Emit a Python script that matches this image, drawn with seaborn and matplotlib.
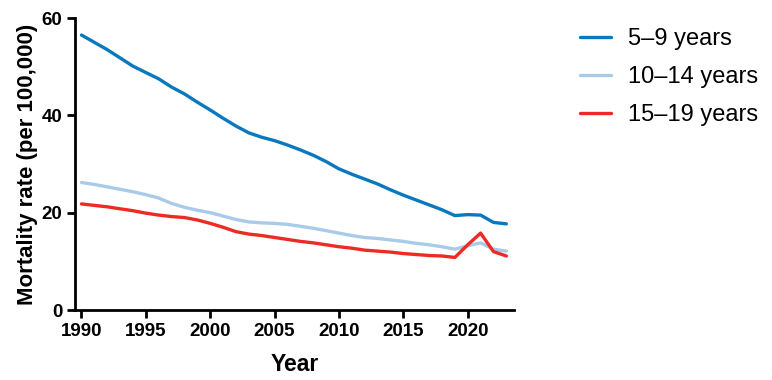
import numpy as np
import pandas as pd
import matplotlib
matplotlib.use("Agg")
import matplotlib.pyplot as plt
import seaborn as sns

# Data
years = list(range(1990, 2024))

age_5_9 = [56.5, 55.0, 53.5, 51.8, 50.1, 48.8, 47.5, 45.8, 44.4, 42.7,
           41.1, 39.4, 37.8, 36.4, 35.5, 34.8, 33.9, 32.9, 31.8, 30.5,
           29.0, 27.9, 26.9, 25.9, 24.7, 23.6, 22.6, 21.6, 20.6, 19.4,
           19.6, 19.5, 18.0, 17.7]

age_10_14 = [26.2, 25.8, 25.3, 24.8, 24.3, 23.7, 23.0, 21.9, 21.1, 20.5,
             20.0, 19.3, 18.6, 18.1, 17.9, 17.8, 17.6, 17.2, 16.8, 16.3,
             15.8, 15.3, 14.9, 14.7, 14.4, 14.1, 13.7, 13.4, 13.0, 12.5,
             13.2, 13.8, 12.5, 12.1]

age_15_19 = [21.8, 21.5, 21.2, 20.8, 20.4, 19.9, 19.5, 19.2, 19.0, 18.5,
             17.8, 17.0, 16.1, 15.6, 15.3, 14.9, 14.5, 14.1, 13.8, 13.4,
             13.0, 12.7, 12.3, 12.1, 11.9, 11.6, 11.4, 11.2, 11.1, 10.8,
             13.4, 15.8, 12.0, 11.1]

groups = ["5\u20139 years", "10\u201314 years", "15\u201319 years"]
colors = ["#0a78bd", "#a9cbea", "#ee2a24"]

df = pd.DataFrame({
    "Year": years * 3,
    "Rate": age_5_9 + age_10_14 + age_15_19,
    "Group": [groups[0]] * len(years) + [groups[1]] * len(years) + [groups[2]] * len(years),
})

sns.set_style("ticks")
plt.rcParams["font.family"] = ["Liberation Sans", "DejaVu Sans"]
plt.rcParams["text.color"] = "black"
plt.rcParams["axes.labelcolor"] = "black"

fig = plt.figure(figsize=(7.72, 3.80), dpi=100)
ax = fig.add_axes([0.0972, 0.1842, 0.5687, 0.7684])

sns.lineplot(data=df, x="Year", y="Rate", hue="Group", hue_order=groups,
             palette=colors, linewidth=2.4, ax=ax, legend=False)

ax.set_xlim(1989.5, 2023.6)
ax.set_ylim(0, 60)
ax.set_xticks(range(1990, 2021, 5))
ax.set_yticks([0, 20, 40, 60])

for side in ["top", "right"]:
    ax.spines[side].set_visible(False)
for side in ["left", "bottom"]:
    ax.spines[side].set_linewidth(2.0)
    ax.spines[side].set_color("black")

ax.tick_params(axis="both", width=2.0, length=6, color="black",
               labelsize=13.5, labelcolor="black", pad=3)
for lab in ax.get_xticklabels() + ax.get_yticklabels():
    lab.set_fontweight("bold")

ax.set_xlabel("Year", fontsize=16.5, fontweight="bold", labelpad=10)
ax.set_ylabel("Mortality rate (per 100,000)", fontsize=16, fontweight="bold", labelpad=3)

handles = [plt.Line2D([], [], color=c, linewidth=2.4) for c in colors]
fig.legend(handles, groups, loc="upper left", bbox_to_anchor=(0.739, 0.95),
           frameon=False, fontsize=17, handlelength=1.3, handletextpad=0.75,
           labelspacing=0.67, borderaxespad=0)

fig.savefig("out.png", dpi=100)
